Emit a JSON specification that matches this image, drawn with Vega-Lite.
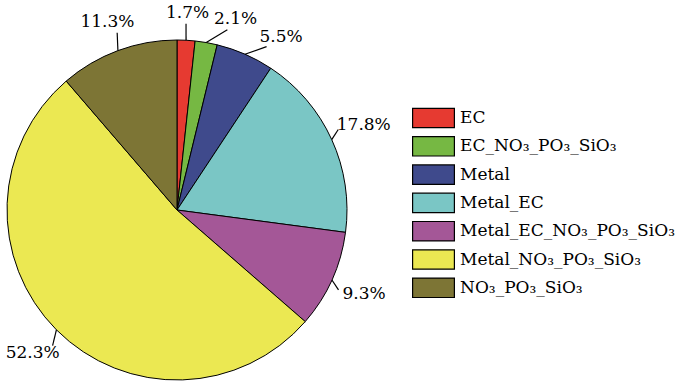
{
  "$schema": "https://vega.github.io/schema/vega-lite/v6.json",
  "width": 340,
  "height": 340,
  "autosize": "none",
  "padding": {"left": 7, "top": 40, "right": 353, "bottom": 4},
  "background": "white",
  "config": {"view": {"stroke": null}, "font": "DejaVu Serif"},
  "data": {
    "values": [
      {"cat": "EC", "v": 1.7},
      {"cat": "EC_NO₃_PO₃_SiO₃", "v": 2.1},
      {"cat": "Metal", "v": 5.5},
      {"cat": "Metal_EC", "v": 17.8},
      {"cat": "Metal_EC_NO₃_PO₃_SiO₃", "v": 9.3},
      {"cat": "Metal_NO₃_PO₃_SiO₃", "v": 52.3},
      {"cat": "NO₃_PO₃_SiO₃", "v": 11.3}
    ]
  },
  "transform": [
    {"window": [{"op": "sum", "field": "v", "as": "cum"}, {"op": "row_number", "as": "idx"}], "sort": [{"field": "cat"}]},
    {"calculate": "(datum.cum - datum.v / 2) / 100 * 2 * PI", "as": "mid"},
    {"calculate": "datum.mid - datum.idx * 0.2443", "as": "t"},
    {"window": [{"op": "max", "field": "t", "as": "tmax"}], "sort": [{"field": "cat"}]},
    {"calculate": "datum.tmax + datum.idx * 0.2443", "as": "la"},
    {"calculate": "197 + 9 * abs(sin(datum.la))", "as": "lr"},
    {"calculate": "datum.lr * sin(datum.la)", "as": "lx"},
    {"calculate": "datum.lr * cos(datum.la)", "as": "ly"},
    {"calculate": "170 * sin(datum.mid)", "as": "ax"},
    {"calculate": "170 * cos(datum.mid)", "as": "ay"},
    {"calculate": "datum.lx - 28 * sin(datum.la)", "as": "bx"},
    {"calculate": "datum.ly - 11 * cos(datum.la)", "as": "by"},
    {"calculate": "format(datum.v, '.1f') + '%'", "as": "label"}
  ],
  "layer": [
    {
      "mark": {"type": "arc", "stroke": "black", "strokeWidth": 1},
      "encoding": {
        "theta": {"field": "v", "type": "quantitative", "stack": true},
        "color": {
          "field": "cat",
          "type": "nominal",
          "scale": {
            "domain": ["EC", "EC_NO₃_PO₃_SiO₃", "Metal", "Metal_EC", "Metal_EC_NO₃_PO₃_SiO₃", "Metal_NO₃_PO₃_SiO₃", "NO₃_PO₃_SiO₃"],
            "range": ["#E63A31", "#76B843", "#3F4A8C", "#7AC6C5", "#A45797", "#EBE852", "#7D7535"]
          },
          "legend": {
            "title": null,
            "orient": "none",
            "legendX": 404,
            "legendY": 67,
            "padding": 0,
            "symbolType": "M-0.94,-0.97H3.24V0.97H-0.94Z",
            "symbolSize": 400,
            "symbolStrokeColor": "black",
            "symbolStrokeWidth": 1.2,
            "symbolOpacity": 1,
            "labelFont": "DejaVu Serif",
            "labelFontSize": 17,
            "labelColor": "black",
            "labelLimit": 400,
            "labelOffset": 27,
            "clipHeight": 22,
            "rowPadding": 6.3
          }
        }
      }
    },
    {
      "mark": {"type": "rule", "color": "black", "strokeWidth": 1.2},
      "encoding": {
        "x": {"field": "ax", "type": "quantitative", "scale": {"domain": [-170, 170], "nice": false, "zero": false}, "axis": null},
        "y": {"field": "ay", "type": "quantitative", "scale": {"domain": [-170, 170], "nice": false, "zero": false}, "axis": null},
        "x2": {"field": "bx"},
        "y2": {"field": "by"}
      }
    },
    {
      "mark": {"type": "text", "font": "DejaVu Serif", "fontSize": 17, "color": "black", "align": "center", "baseline": "middle"},
      "encoding": {
        "x": {"field": "lx", "type": "quantitative", "scale": {"domain": [-170, 170], "nice": false, "zero": false}, "axis": null},
        "y": {"field": "ly", "type": "quantitative", "scale": {"domain": [-170, 170], "nice": false, "zero": false}, "axis": null},
        "text": {"field": "label"}
      }
    }
  ]
}
